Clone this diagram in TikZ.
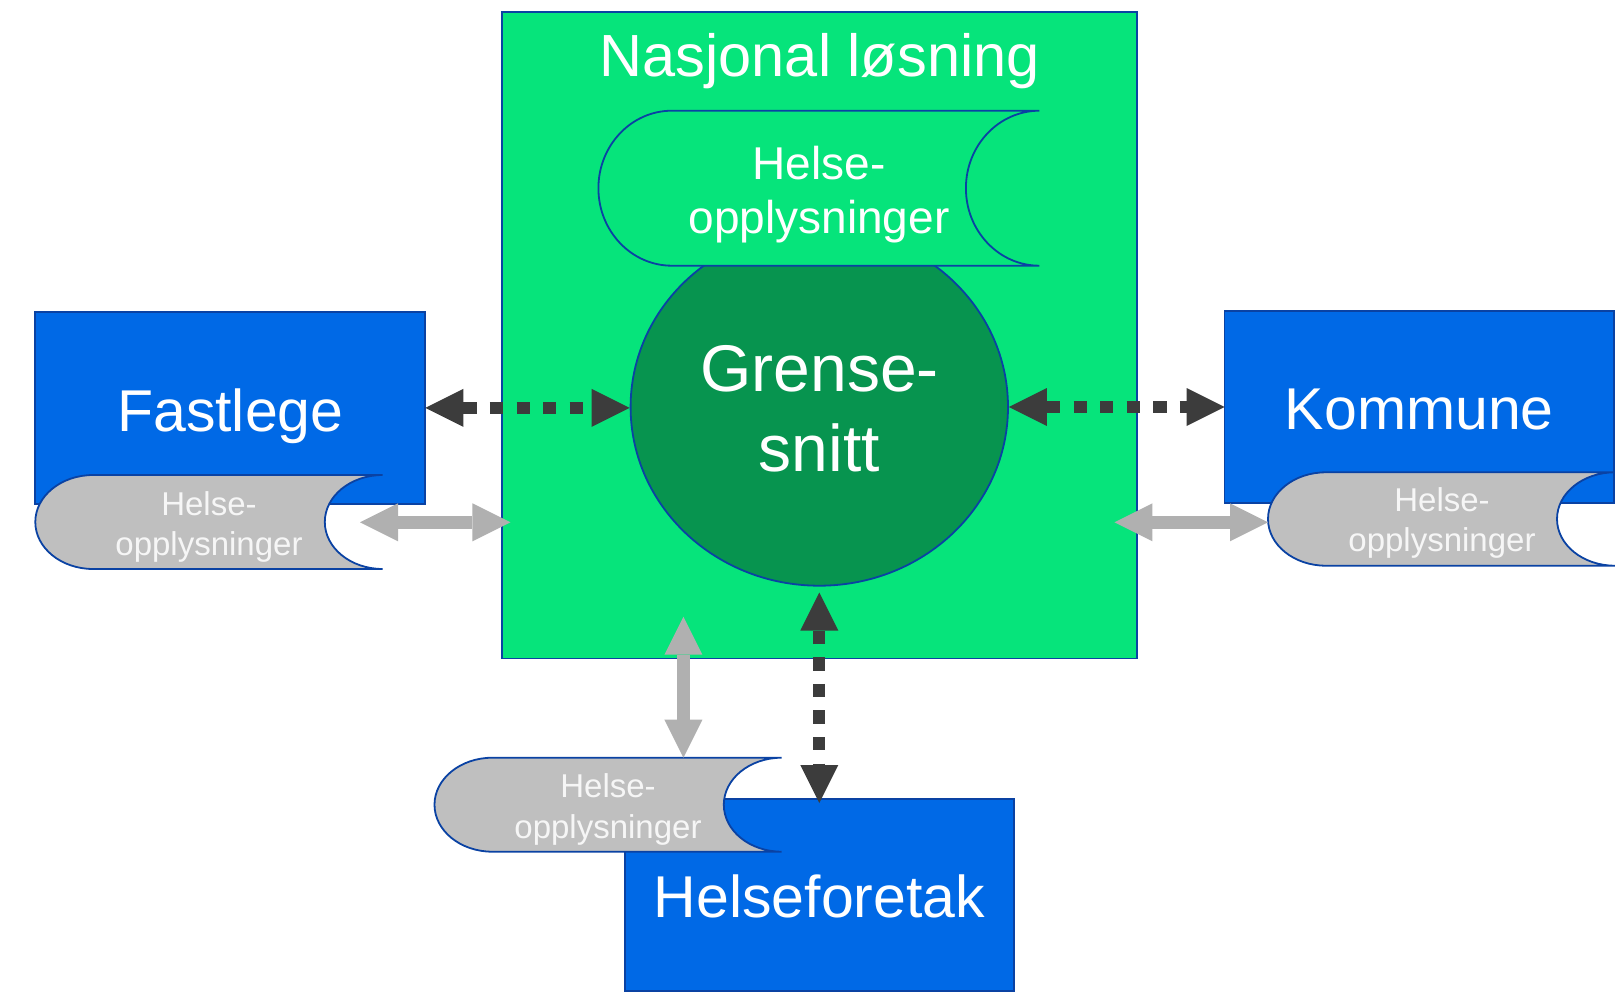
\documentclass[tikz,border=0pt]{standalone}
\usepackage{fontspec}
\setmainfont{Liberation Sans}
\usetikzlibrary{shapes.geometric,arrows.meta}
\definecolor{bggreen}{HTML}{06E47B}
\definecolor{dkgreen}{HTML}{07944F}
\definecolor{boxblue}{HTML}{0069E6}
\definecolor{edgeblue}{HTML}{0A42A3}
\definecolor{stgrey}{HTML}{BFBFBF}
\definecolor{arrdark}{HTML}{3C3C3C}
\definecolor{arrgrey}{HTML}{B0B0B0}
\definecolor{sttext}{HTML}{F6F6F6}
\tikzset{
  bigtri/.tip={Triangle[length=38pt,width=38pt,line width=0pt]},
  box/.style={draw=edgeblue,line width=1.8pt,fill=boxblue,anchor=north west,inner sep=0pt,outer sep=0pt},
  stor/.style={draw=edgeblue,line width=1.8pt},
  bigtext/.style={text=white,font=\fontsize{59}{59}\selectfont,anchor=base,inner sep=0pt},
  midtext/.style={text=white,font=\fontsize{46}{46}\selectfont,anchor=base,inner sep=0pt},
  smalltext/.style={text=sttext,font=\fontsize{33}{33}\selectfont,anchor=base,inner sep=0pt},
  darr/.style={draw=arrdark,line width=12pt,dash pattern=on 13.3pt off 13.3pt,bigtri-bigtri},
  garr/.style={draw=arrgrey,line width=13.3pt,bigtri-bigtri},
}
\begin{document}
\begin{tikzpicture}[x=1pt,y=-1pt]
\fill[white] (0,0) rectangle (1622,1001);
\useasboundingbox (0,0) rectangle (1622,1001);

% national solution
\node[box,fill=bggreen,minimum width=635.3pt,minimum height=646.2pt] (nl) at (501.7,12.3) {};
\node[bigtext,font=\fontsize{59.5}{59.5}\selectfont] (nltitle) at (819.7,76.5) {Nasjonal løsning};

% interface ellipse
\node[ellipse,draw=edgeblue,line width=1.8pt,fill=dkgreen,minimum width=377.4pt,minimum height=357.4pt,inner sep=0pt] (gs) at (819.3,407) {};
\node[bigtext,font=\fontsize{66}{66}\selectfont] (gs1) at (819.5,391.5) {Grense-};
\node[bigtext,font=\fontsize{66}{66}\selectfont] (gs2) at (819.5,471.5) {snitt};

% top storage
\path[stor,fill=bggreen] (671.9,110.7) -- (1039.4,110.7)
  arc[start angle=90,end angle=270,x radius=73.5pt,y radius=77.5pt] -- (671.9,265.7)
  arc[start angle=270,end angle=90,x radius=73.5pt,y radius=77.5pt] -- cycle;
\node[midtext] (nlst1) at (819,179.5) {Helse-};
\node[midtext] (nlst2) at (819,233.5) {opplysninger};

% Fastlege
\node[box,minimum width=390pt,minimum height=192.3pt] (fastlege) at (35.3,311.7) {};
\node[bigtext] (fltext) at (230.3,431.5) {Fastlege};
\path[stor,fill=stgrey] (93.2,475) -- (382.7,475)
  arc[start angle=90,end angle=270,x radius=57.9pt,y radius=47pt] -- (93.2,569)
  arc[start angle=270,end angle=90,x radius=57.9pt,y radius=47pt] -- cycle;
\node[smalltext] (flst1) at (209,515) {Helse-};
\node[smalltext] (flst2) at (209,555) {opplysninger};

% Kommune
\node[box,minimum width=389.5pt,minimum height=192.6pt] (kommune) at (1224.5,310.7) {};
\node[bigtext] (kotext) at (1419.3,429.3) {Kommune};
\path[stor,fill=stgrey] (1325.8,472.3) -- (1614.8,472.3)
  arc[start angle=90,end angle=270,x radius=57.8pt,y radius=46.7pt] -- (1325.8,565.7)
  arc[start angle=270,end angle=90,x radius=57.8pt,y radius=46.7pt] -- cycle;
\node[smalltext] (kost1) at (1442,511.5) {Helse-};
\node[smalltext] (kost2) at (1442,551.5) {opplysninger};

% Helseforetak
\node[box,minimum width=389.6pt,minimum height=191.7pt] (hf) at (624.7,799) {};
\node[bigtext] (hftext) at (819.5,917.5) {Helseforetak};
\path[stor,fill=stgrey] (492.4,757.7) -- (781.7,757.7)
  arc[start angle=90,end angle=270,x radius=57.9pt,y radius=47pt] -- (492.4,851.7)
  arc[start angle=270,end angle=90,x radius=57.9pt,y radius=47pt] -- cycle;
\node[smalltext] (hfst1) at (608,797.5) {Helse-};
\node[smalltext] (hfst2) at (608,838) {opplysninger};

% connector end points
\coordinate (flg1) at (360,522.3);
\coordinate (flg2) at (510.4,522.3);
\coordinate (kog1) at (1114.4,522.3);
\coordinate (kostl) at (1268,522.3);
\coordinate (hfg1) at (683.4,616.7);
\coordinate (hfstt) at (683.4,757.7);

% dark dotted arrows
\draw[darr] (fastlege.east) -- (fastlege.east -| gs.west);
\draw[darr] (gs.east) -- (gs.east -| kommune.west);
\draw[darr,shorten <=6pt,shorten >=-4pt] (gs.south) -- (gs.south |- hf.north);

% grey arrows
\draw[garr] (flg1) -- (flg2);
\draw[garr] (kog1) -- (kostl);
\draw[garr] (hfg1) -- (hfstt);
\end{tikzpicture}
\end{document}
